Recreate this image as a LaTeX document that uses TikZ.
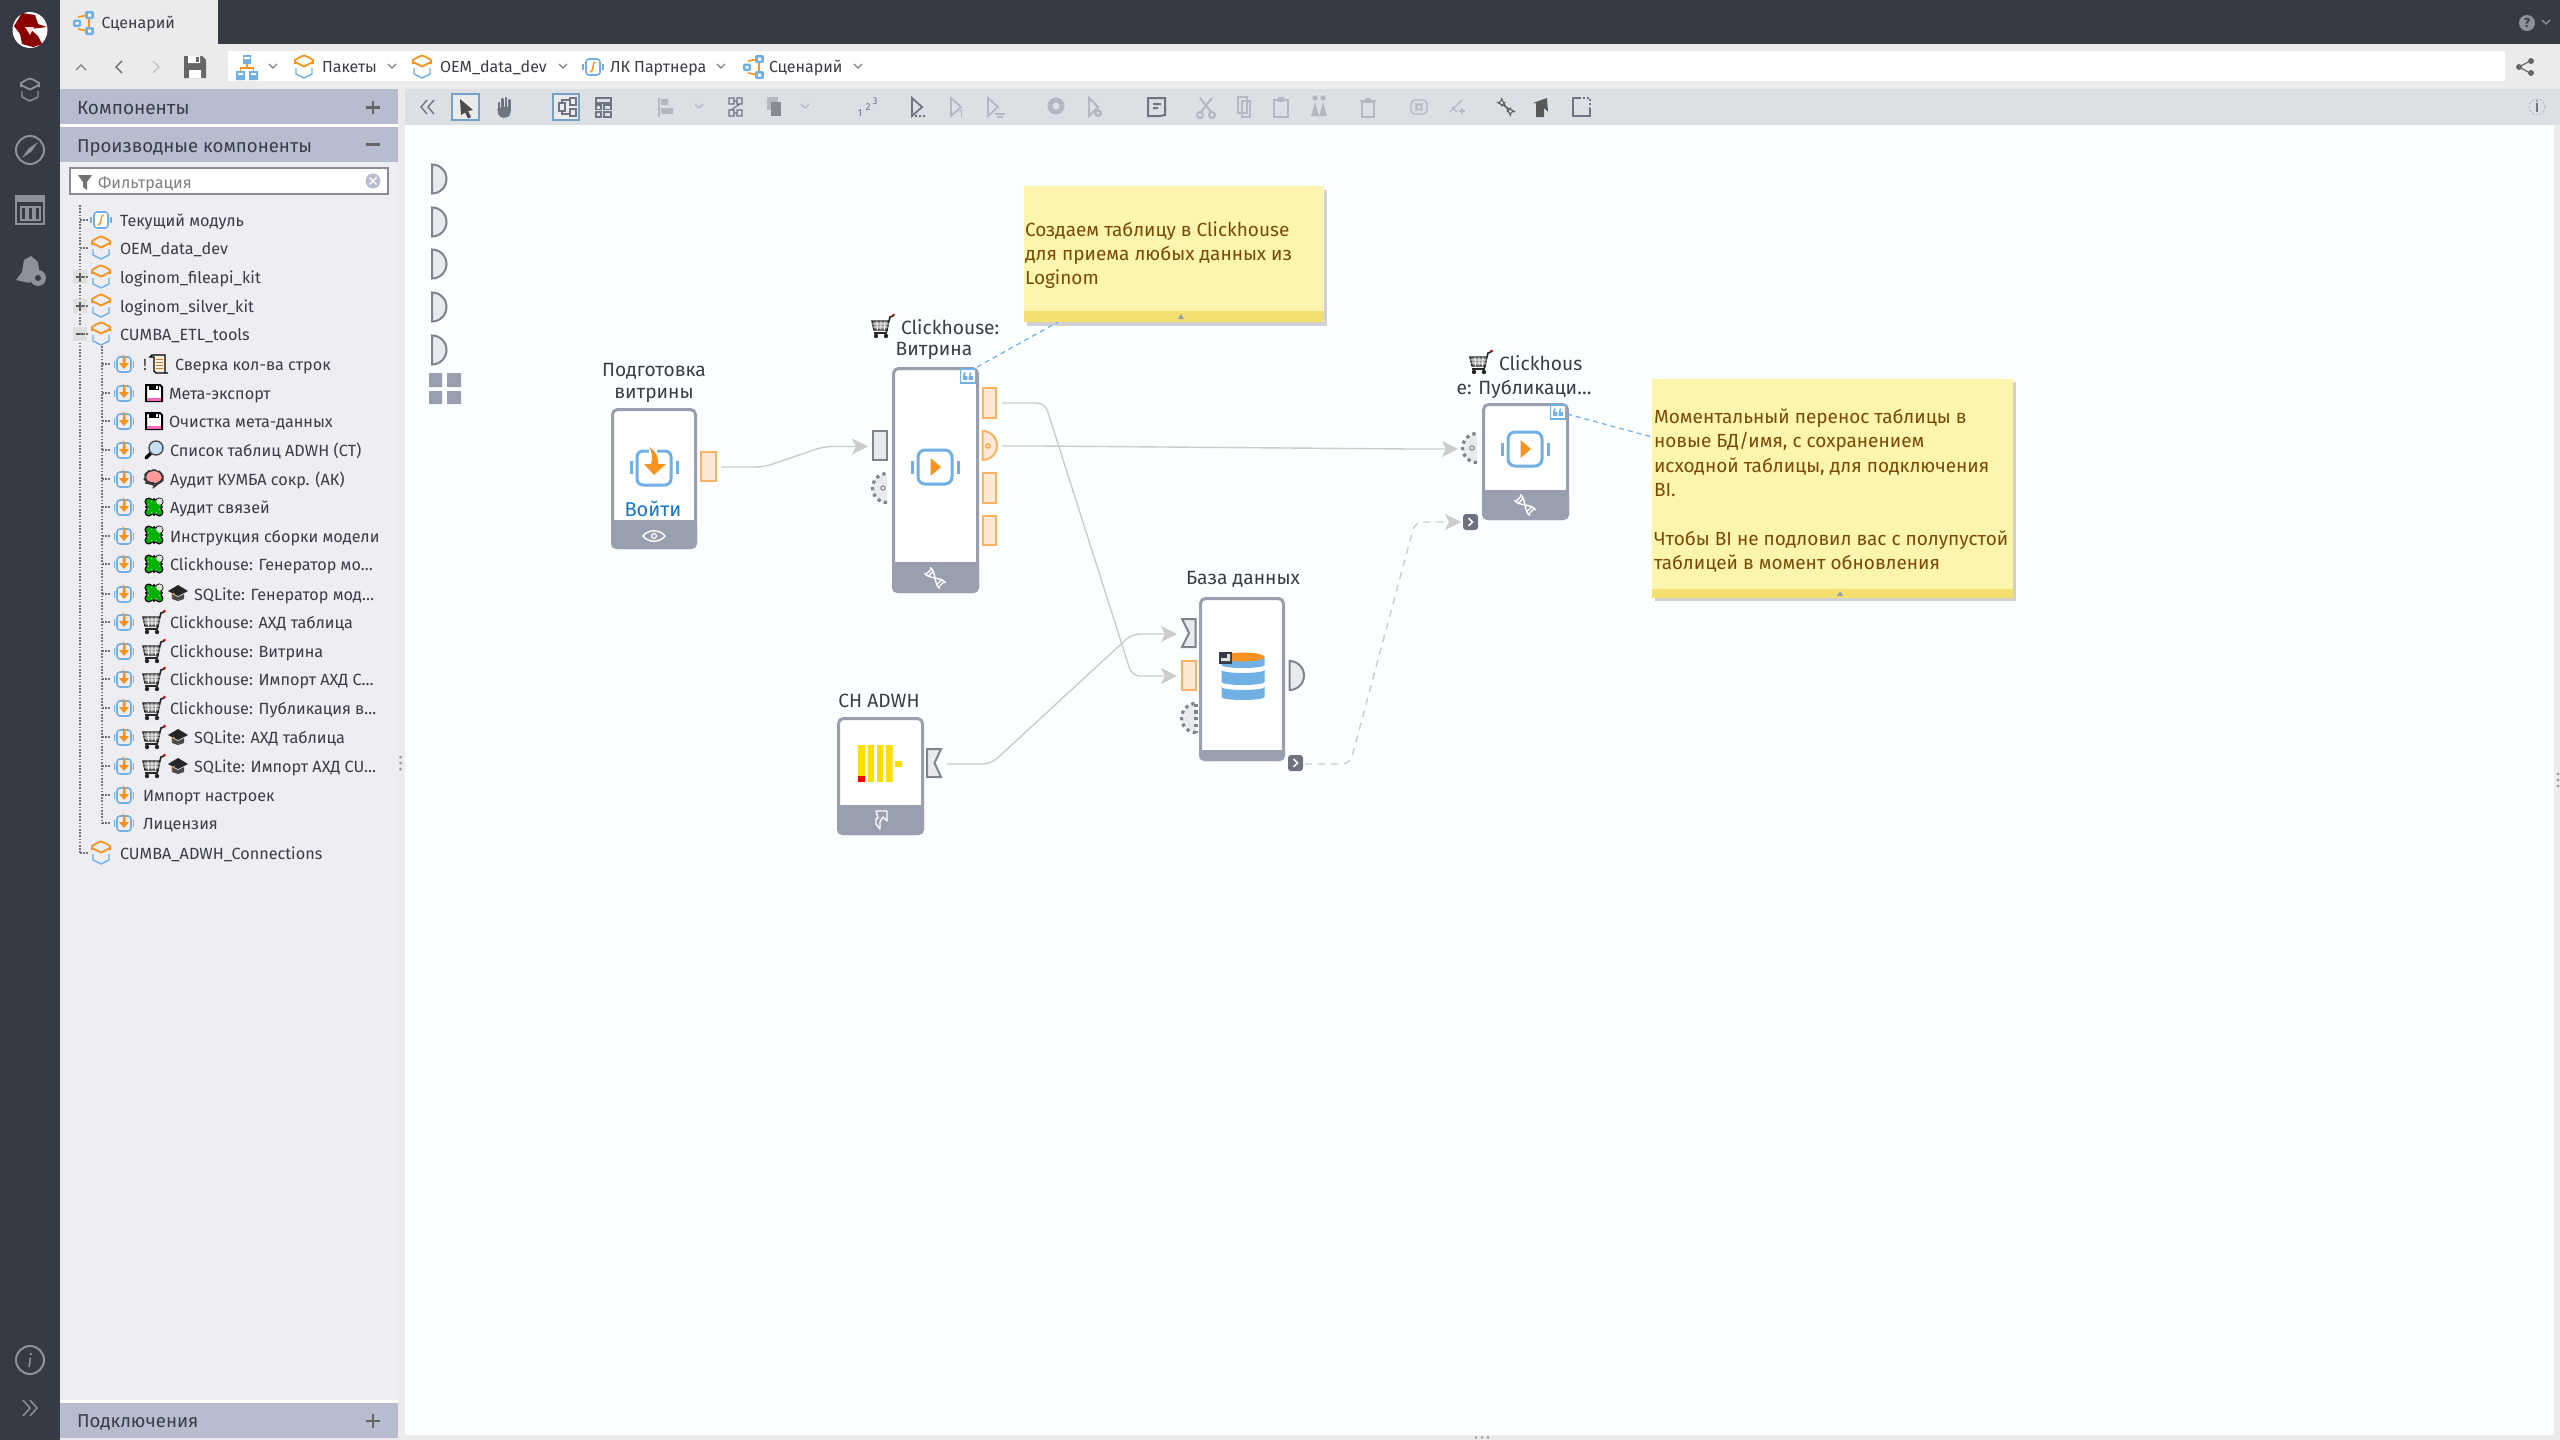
\documentclass[tikz,border=0pt]{standalone}
\usepackage{fontspec}
\setmainfont{Fira Sans}
\usetikzlibrary{arrows.meta}
\definecolor{dark}{HTML}{363A45}
\definecolor{chrome}{HTML}{EBEBEC}
\definecolor{hdr}{HTML}{B7BDCE}
\definecolor{panel}{HTML}{EDEDF2}
\definecolor{tool}{HTML}{DCDFE4}
\definecolor{canvasc}{HTML}{FBFFFF}
\definecolor{bandc}{HTML}{9A9FB0}
\definecolor{sideic}{HTML}{8D919E}
\definecolor{txt}{HTML}{3A3C46}
\definecolor{blueic}{HTML}{70B0E4}
\definecolor{orangeic}{HTML}{F7931E}
\definecolor{portor}{HTML}{F9B262}
\definecolor{portorf}{HTML}{FDE9D6}
\definecolor{portgr}{HTML}{7F838E}
\definecolor{portgf}{HTML}{E9EAEE}
\definecolor{conn}{HTML}{CCCCCC}
\definecolor{notef}{HTML}{FCF5AE}
\definecolor{noteb}{HTML}{F4E070}
\definecolor{notet}{HTML}{7B4A05}
\definecolor{ticA}{HTML}{6E7482}
\definecolor{ticB}{HTML}{B4B8C0}
\definecolor{cdark}{HTML}{6E7280}
\definecolor{loginblue}{HTML}{1277C9}
\tikzset{
  lbl/.style={font=\fontsize{9.6pt}{12pt}\selectfont,text=txt,inner sep=0pt,outer sep=0pt,yshift=-0.7pt},
  rowt/.style={font=\fontsize{8.1pt}{10pt}\selectfont,text=txt,inner sep=0pt,outer sep=0pt,anchor=mid west,yshift=-0.4pt},
  hdrt/.style={font=\fontsize{9.3pt}{12pt}\selectfont,text=txt,inner sep=0pt,outer sep=0pt,anchor=mid west,yshift=-0.8pt},
  crumb/.style={font=\fontsize{8pt}{10pt}\selectfont,text=txt,inner sep=0pt,outer sep=0pt,anchor=mid west},
  notet/.style={font=\fontsize{9.5pt}{12.15pt}\selectfont,text=notet,inner sep=0pt,outer sep=0pt,align=left},
  fbox/.style={draw=bandc,fill=white,line width=1.5pt,rounded corners=2.5pt,inner sep=0pt,outer sep=0pt},
  rport/.style={draw=portor,fill=portorf,line width=1pt},
  gport/.style={draw=portgr,fill=portgf,line width=1pt},
  cedge/.style={draw=conn,line width=0.7pt,rounded corners=4pt,-{Stealth[length=8pt,width=8pt,inset=2pt,fill=conn]}},
  dedge/.style={cedge,dash pattern=on 3.5pt off 3pt},
  ndash/.style={draw=blueic,line width=0.6pt,dash pattern=on 2.5pt off 2pt},
  ticon/.style={draw=ticA,line width=0.9pt},
  ticoff/.style={draw=ticB,line width=0.9pt},
  tree/.style={draw=black!55,line width=0.6pt,dash pattern=on 0.8pt off 0.8pt},
}
% ---- icons -------------------------------------------------------------
\newcommand\pkgic[4]{\begin{scope}[shift={(#1,#2)},line join=round]
 \draw[#3,line width=0.9pt] (-9,-3)--(-9,-7)--(-4,-10);
 \draw[#3,line width=0.9pt] (9,-3)--(9,-7)--(4,-10);
 \draw[#3,line width=0.9pt] (-4,-10)--(0,-11.5)--(4,-10);
 \draw[#3,line width=0.9pt] (-9,-5)--(0,-0.5)--(9,-5);
 \draw[#4,line width=0.7pt] (-8,1)--(-8,7)--(0,11)--(8,7)--(8,1);
\end{scope}}
\newcommand\scenic[2]{\begin{scope}[shift={(#1,#2)}]
 \draw[orangeic,line width=0.8pt] (-6,-6)--(4,-8) (-6,6)--(4,8) (5,-4)--(5,4);
 \fill[blueic,rounded corners=1pt] (-11,-3.5) rectangle (-3,4);
 \fill[blueic,rounded corners=1pt] (1,-12) rectangle (10,-4);
 \fill[blueic,rounded corners=1pt] (1,4) rectangle (10,12);
 \fill[white] (-8.5,-1) rectangle (-5.5,1.5) (4,-9.5) rectangle (7,-6.5) (4,6.5) rectangle (7,9.5);
\end{scope}}
\newcommand\fxic[2]{\begin{scope}[shift={(#1,#2)}]
 \draw[blueic,line width=0.8pt,fill=white,rounded corners=1.5pt] (-7,-8) rectangle (7,8);
 \draw[blueic,line width=0.7pt] (-10,-3)--(-10,3) (10,-3)--(10,3);
 \draw[orangeic,line width=0.7pt] (2.5,-5) .. controls (0.5,-5) and (0.5,-3) .. (0,0) .. controls (-0.5,3) and (-1,5) .. (-3,5);
\end{scope}}
\newcommand\impic[2]{\begin{scope}[shift={(#1,#2)}]
 \draw[blueic,line width=0.8pt,rounded corners=1.5pt,fill=panel] (-7,-7) rectangle (7,8);
 \draw[blueic,line width=0.8pt] (-9.5,-3)--(-9.5,4) (9.5,-3)--(9.5,4);
 \fill[orangeic] (-1.5,-10) .. controls (2,-7) and (2,-4) .. (1.5,-1) -- (5,-1) -- (0,5) -- (-5,-1) -- (-1.5,-1) .. controls (-0.5,-4) and (-0.5,-7) .. cycle;
\end{scope}}
\newcommand\bigimp[2]{\begin{scope}[shift={(#1,#2)}]
 \draw[blueic,line width=1.5pt,rounded corners=3pt] (-17,-16) rectangle (17,18);
 \draw[blueic,line width=1.5pt] (-23,-6)--(-23,7) (23,-6)--(23,7);
 \fill[white] (-5,-20) rectangle (3,-14);
 \fill[orangeic] (-5,-20) .. controls (3,-15) and (5,-8) .. (4,-3) -- (12,-3) -- (0,8) -- (-10,-3) -- (-3,-3) .. controls (-1,-9) and (-2,-15) .. cycle;
\end{scope}}
\newcommand\playic[2]{\begin{scope}[shift={(#1,#2)}]
 \draw[blueic,line width=1.5pt,rounded corners=3.5pt] (-17,-17) rectangle (17,17);
 \draw[blueic,line width=1.5pt] (-23,-6)--(-23,7) (23,-6)--(23,7);
 \fill[orangeic] (-4.5,-9)--(6,0)--(-4.5,9)--cycle;
\end{scope}}
\newcommand\cartic[2]{\begin{scope}[shift={(#1,#2)}]
 \draw[black!85,line width=0.7pt,fill=black!40] (-10,-5)--(7,-5)--(5,4)--(-8,4)--cycle;
 \draw[white,line width=0.4pt] (-10,-2)--(7,-2) (-9,1)--(6,1) (-5,-5)--(-4.5,4) (-1,-5)--(-1,4) (3,-5)--(2.5,4);
 \draw[black!85,line width=0.8pt] (7,-5)--(8,-9)--(11,-10) (5,4)--(4,7)--(-8,7);
 \fill[black!85] (-6,10) circle (2.2) (4,10) circle (2.2);
 \fill[red!80!black] (11.5,-11) circle (1.5);
\end{scope}}
\newcommand\puzic[2]{\begin{scope}[shift={(#1,#2)},rotate=45]
 \fill[black] (-6.5,-6.5) rectangle (6.5,6.5) (-7.5,0) circle (4.2) (7.5,0) circle (4.2) (0,-7.5) circle (4.2) (0,7.5) circle (4.2);
 \fill[green!70!black] (-5,-5) rectangle (5,5) (-7.5,0) circle (2.8) (7.5,0) circle (2.8) (0,-7.5) circle (2.8) (0,7.5) circle (2.8);
\end{scope}
 \fill[white!75!gray] (#1+5.5,#2-5.5) circle (3.2);}
\newcommand\hatic[2]{\begin{scope}[shift={(#1,#2)}]
 \fill[black!85] (-10,-2)--(0,-8)--(10,-2)--(0,3)--cycle;
 \fill[black!70] (-6,1)--(0,4)--(6,1)--(6,6)--(0,8)--(-6,6)--cycle;
 \draw[orangeic!80!black,line width=0.4pt] (-3,0)--(-6,1)--(-6,5);
\end{scope}}
\newcommand\floppyic[2]{\begin{scope}[shift={(#1,#2)}]
 \draw[black,line width=1pt,fill=white] (-8,-8)--(6,-8)--(8,-6)--(8,8)--(-8,8)--cycle;
 \fill[black] (-5,-8) rectangle (5,-3);
 \fill[white] (1.5,-7) rectangle (4,-4);
 \fill[magenta!60] (-7,5) rectangle (7,7.5);
\end{scope}}
\newcommand\magic[2]{\begin{scope}[shift={(#1,#2)}]
 \draw[black,line width=1.6pt,line cap=round] (-3,3)--(-8,8);
 \draw[black!70,line width=0.7pt,fill=blueic!40] (2,-2) circle (7);
\end{scope}}
\newcommand\brainic[2]{\begin{scope}[shift={(#1,#2)}]
 \draw[black!80,line width=0.6pt,fill=red!40!white,rounded corners=3pt] (-9,2)--(-9,-4)--(-4,-8)--(4,-8)--(9,-3)--(9,3)--(3,6)--(1,8)--(-3,5)--(-6,5)--cycle;
\end{scope}}
\newcommand\scrollic[2]{\begin{scope}[shift={(#1,#2)}]
 \draw[black,line width=0.7pt,fill=orange!15!white] (-7,-9)--(6,-9)--(6,9)--(9,9)--(-3,9)--(-5,7)--(-5,-7)--(-9,-7)--cycle;
 \draw[orange!50!gray,line width=0.3pt] (-3,-5)--(4,-5) (-3,-2)--(4,-2) (-3,1)--(4,1) (-3,4)--(4,4);
\end{scope}}
\newcommand\dnaic[2]{\begin{scope}[shift={(#1,#2)},rotate=-45]
 \draw[white,line width=0.7pt] (-11,-4) .. controls (-4,-6) and (4,6) .. (11,4) (-11,4) .. controls (-4,6) and (4,-6) .. (11,-4) (-6,-3)--(-6,3) (6,-3)--(6,3) (-9,-3)--(-9,3) (9,-3)--(9,3);
\end{scope}}
\newcommand\quoteic[2]{\begin{scope}[shift={(#1,#2)}]
 \draw[blueic,line width=0.8pt,fill=white] (-7.5,-7)rectangle(7.5,7);
 \fill[blueic] (-5,0) rectangle (-0.7,4) (0.7,0) rectangle (5,4);
 \draw[blueic,line width=0.8pt] (-4.2,0) -- (-3,-3.5) (1.5,0)--(2.7,-3.5);
\end{scope}}
\newcommand\arrport[2]{\begin{scope}[shift={(#1,#2)}]
 \fill[cdark,rounded corners=1.5pt] (-7.5,-8) rectangle (7.5,8);
 \draw[white,line width=0.8pt] (-2,-4)--(2,0)--(-2,4);
\end{scope}}
\newcommand\dotport[2]{%
 \fill[portgf] (#1,#2+14.5) arc (90:270:14.5) -- cycle;
 \draw[portgr,line width=1.6pt,dash pattern=on 1.6pt off 1.8pt] (#1,#2+14.5) arc (90:270:14.5);
}
\newcommand\halfport[3]{%
 \draw[gport,#3] (#1,#2-14.5) arc (-90:90:14.5) -- cycle;
}
\newcommand\chev[3]{\draw[#3,line width=0.6pt] (#1-4,#2-2)--(#1,#2+2)--(#1+4,#2-2);}
% flowchart box: name x1 y1 x2 y2 bandY
\newcommand\flow[6]{%
 \pgfmathsetmacro\bw{(#4-#2-3)*0.5}\pgfmathsetmacro\bh{(#5-#3-3)*0.5}%
 \node[fbox,minimum width=\bw pt,minimum height=\bh pt] (#1) at ({(#2+#4)/2},{(#3+#5)/2}) {};
 \fill[bandc,rounded corners=2.5pt] (#2,#6) rectangle (#4,#5);
 \fill[bandc] (#2,#6) rectangle (#4,#6+6);
}
% database segment: top edge y, bottom edge y
\newcommand\dbseg[2]{\fill[blueic] (-21.5,#1) -- (-21.5,#2) arc (180:0:21.5 and 3) -- (21.5,#1) arc (0:180:21.5 and 3) -- cycle;}
% tree rows
\newcommand\rowb[4]{\draw[tree] (102,#1)--(110,#1); \impic{124}{#1} \node[rowt] (#2) at (#3,#1) {#4};}
\newcommand\rowa[3]{\draw[tree] (80,#1)--(88,#1); \pkgic{101}{#1}{orangeic}{blueic} \node[rowt] (#2) at (120,#1) {#3};}
\newcommand\plusb[2]{\fill[black!12] (73,#1-7) rectangle (87,#1+7); \draw[black!65,line width=0.7pt] (75.5,#1)--(84.5,#1); \ifnum#2=1 \draw[black!65,line width=0.7pt] (80,#1-4.5)--(80,#1+4.5);\fi}
\begin{document}
\begin{tikzpicture}[x=0.5pt,y=-0.5pt,line cap=butt]
\useasboundingbox (0,0) rectangle (2560,1440);
\clip (0,0) rectangle (2560,1440);
% ---- chrome
\fill[chrome] (0,0) rectangle (2560,1440);
\fill[dark] (0,0) rectangle (2560,44);
\fill[dark] (0,0) rectangle (60,1440);
\fill[chrome] (60,0) rectangle (218,44);
\fill[white] (228,51) rectangle (2505,81);
\fill[tool] (405,89) rectangle (2560,125);
\fill[canvasc] (405,125) rectangle (2554,1435);
\fill[white] (60,124) rectangle (398,127);
\fill[panel] (60,162) rectangle (398,1400);
\fill[white] (60,1400) rectangle (398,1403);
\fill[hdr] (60,89) rectangle (398,124);
\fill[hdr] (60,127) rectangle (398,162);
\fill[hdr] (60,1403) rectangle (398,1438);
% ---- left rail icons
\fill[white] (30,30) ellipse (17.5 and 18);
\fill[red!55!black] (14,26)--(22,13)--(35,15)--(38,24)--(47,27)--(30,29)--(38,36)--(42,44)--(33,47)--(22,44)--(20,34)--cycle;
\fill[white!85!red] (25,27)--(34,27)--(30,35)--cycle;
\pkgic{30}{90}{sideic}{sideic}
\draw[sideic,line width=1pt] (30,150) circle (14);
\fill[sideic] (38,142)--(31.5,151.5)--(22,158)--(28.5,148.5)--cycle;
\draw[sideic,line width=1pt,fill=dark] (16,196) rectangle (44,224);
\fill[sideic] (16,196) rectangle (44,202);
\draw[sideic,line width=1pt] (21,207)rectangle(26,220) (28,207)rectangle(33,220) (35,207)rectangle(40,220);
\fill[sideic] (16,280)--(22,272)--(24,260)--(31,256)--(38,262)--(39,270)--(33,272)--(30,283)--cycle;
\fill[sideic] (38,278) circle (8); \fill[dark] (38,278) circle (3);
\draw[sideic,line width=1pt] (30,1360) circle (14);
\node[font=\itshape\fontsize{9pt}{10pt}\selectfont,text=sideic,inner sep=0pt] (railinfo) at (30,1360) {i};
\draw[sideic,line width=0.7pt] (23,1400)--(30,1408)--(23,1416) (30,1400)--(37,1408)--(30,1416);
% ---- top bar right
\draw[sideic,line width=1pt,fill=sideic] (2527,23) circle (7);
\node[font=\fontsize{6.5pt}{7pt}\selectfont\bfseries,text=dark,inner sep=0pt] (helpq) at (2527,23) {?};
\chev{2546}{22}{sideic}
% ---- tab + breadcrumb
\scenic{84}{23}
\node[crumb] (tab) at (101.5,23) {Сценарий};
\draw[black!50,line width=0.7pt] (76,70)--(81,65)--(86,70);
\draw[black!60,line width=0.7pt] (122,61)--(116,67)--(122,73);
\draw[black!25,line width=0.7pt] (153,61)--(159,67)--(153,73);
\fill[black!60] (184,56)--(202,56)--(206,60)--(206,78)--(184,78)--cycle;
\fill[white] (188,56) rectangle (200,63) (189,70) rectangle (201,78);
\fill[black!60] (196,57) rectangle (199,62);
\begin{scope}[shift={(247,67)}]
 \fill[blueic] (-4,-12) rectangle (4,-3) (-11,4) rectangle (-2,13) (2,4) rectangle (11,13);
 \draw[orangeic,line width=0.7pt] (0,-3)--(0,1) (-6.5,4)--(-6.5,1)--(6.5,1)--(6.5,4);
 \fill[white] (-3,-10) rectangle (3,-8) (-9,6) rectangle (-4,8) (4,6) rectangle (9,8);
\end{scope}
\chev{273}{66}{black!50}
\pkgic{304}{67}{orangeic}{blueic}
\node[crumb] (cr1) at (322,67) {Пакеты};
\chev{392}{66}{black!50}
\pkgic{422}{67}{orangeic}{blueic}
\node[crumb] (cr2) at (440,67) {OEM\_data\_dev};
\chev{563}{66}{black!50}
\fxic{593}{67}
\node[crumb] (cr3) at (610,67) {ЛК Партнера};
\chev{721}{66}{black!50}
\scenic{754}{67}
\node[crumb] (cr4) at (769,67) {Сценарий};
\chev{858}{66}{black!50}
\begin{scope}[shift={(2525,67)}]
 \draw[black!60,line width=0.6pt] (-6,0)--(5,-6) (-6,0)--(5,6);
 \fill[black!60] (-6,0) circle (3) (6,-6) circle (3) (6,6) circle (3);
\end{scope}
% ---- panel headers
\node[hdrt,font=\fontsize{9.5pt}{12pt}\selectfont] (h1) at (77,108) {Компоненты};
\draw[black!60,line width=1.2pt] (366,107.5)--(380,107.5) (373,101)--(373,114);
\node[hdrt] (h2) at (77,145.5) {Производные компоненты};
\draw[black!60,line width=1.2pt] (366,144.5)--(380,144.5);
\node[hdrt] (h3) at (77,1421) {Подключения};
\draw[black!60,line width=1.2pt] (366,1421)--(380,1421) (373,1414)--(373,1428);
% ---- filter
\draw[black!45,line width=0.6pt,fill=white] (70,168) rectangle (388,194);
\fill[black!55] (78,175)--(92,175)--(87,182)--(87,190)--(83,187)--(83,182)--cycle;
\node[rowt,text=black!50] (filt) at (98,182) {Фильтрация};
\fill[hdr] (373,181) circle (7.5);
\draw[white,line width=0.7pt] (369.5,177.5)--(376.5,184.5) (369.5,184.5)--(376.5,177.5);
% ---- tree
\draw[tree] (80,205)--(80,853);
\draw[tree] (102,346)--(102,823);
\draw[tree] (80,220)--(88,220);
\fxic{101}{220}
\node[rowt] (t1) at (120,220) {Текущий модуль};
\rowa{248}{t2}{OEM\_data\_dev}
\plusb{277}{1}\rowa{277}{t3}{loginom\_fileapi\_kit}
\plusb{306}{1}\rowa{306}{t4}{loginom\_silver\_kit}
\plusb{334}{0}\rowa{334}{t5}{CUMBA\_ETL\_tools}
\rowb{364}{r1}{175}{Сверка кол-ва строк}
\node[rowt] (r1b) at (143,364) {!}; \scrollic{159}{364}
\rowb{393}{r2}{169}{Мета-экспорт} \floppyic{154}{393}
\rowb{421}{r3}{169}{Очистка мета-данных} \floppyic{154}{421}
\rowb{450}{r4}{170}{Список таблиц ADWH (CT)} \magic{154}{450}
\rowb{479}{r5}{170}{Аудит КУМБА сокр. (АК)} \brainic{154}{478}
\rowb{507}{r6}{170}{Аудит связей} \puzic{154}{507}
\rowb{536}{r7}{170}{Инструкция сборки модели} \puzic{154}{535}
\rowb{564}{r8}{170}{Clickhouse: Генератор мо…} \puzic{154}{564}
\rowb{594}{r9}{194}{SQLite: Генератор мод…} \puzic{154}{593} \hatic{178}{593}
\rowb{622}{r10}{170}{Clickhouse: АХД таблица} \cartic{153}{622}
\rowb{651}{r11}{170}{Clickhouse: Витрина} \cartic{153}{651}
\rowb{679}{r12}{170}{Clickhouse: Импорт АХД С…} \cartic{153}{679}
\rowb{708}{r13}{170}{Clickhouse: Публикация в…} \cartic{153}{708}
\rowb{737}{r14}{194}{SQLite: АХД таблица} \cartic{153}{737} \hatic{178}{737}
\rowb{766}{r15}{194}{SQLite: Импорт АХД CU…} \cartic{153}{766} \hatic{178}{766}
\rowb{795}{r16}{143}{Импорт настроек}
\rowb{823}{r17}{143}{Лицензия}
\draw[tree] (80,853)--(88,853);
\pkgic{101}{853}{orangeic}{blueic}
\node[rowt] (t6) at (120,853) {CUMBA\_ADWH\_Connections};
\fill[black!40] (400.5,757) circle (1.5) (400.5,763) circle (1.5) (400.5,769) circle (1.5);
\fill[black!40] (2558,774) circle (1.5) (2558,780) circle (1.5) (2558,786) circle (1.5);
\fill[black!40] (1476,1437.5) circle (1.3) (1482,1437.5) circle (1.3) (1488,1437.5) circle (1.3);
% ---- toolbar
\draw[ticA,line width=0.7pt] (427,100)--(421,107)--(427,114) (434,100)--(428,107)--(434,114);
\draw[blueic!70!gray,line width=0.6pt,fill=chrome] (452,94) rectangle (479,120);
\fill[black!70] (460,99)--(473,110)--(468,111)--(471,117)--(468,118.5)--(465,112.5)--(461,115)--cycle;
\draw[ticA,line width=1.1pt,line cap=round] (499,103)--(499,110) (502.5,99)--(502.5,110) (506,98)--(506,110) (509.5,100)--(509.5,110);
\fill[ticA,rounded corners=2pt] (498,107)--(511,107)--(511,114)--(507,118)--(500,118)--(497,112)--cycle;
\draw[blueic!70!gray,line width=0.6pt,fill=chrome] (553,94) rectangle (579,120);
\draw[ticA,line width=0.6pt] (559,103)rectangle(565,111) (570,98)rectangle(576,105) (570,109)rectangle(576,116) (562,103)--(562,100)--(570,100) (562,111)--(562,114)--(570,114);
\draw[ticon] (596,98)rectangle(611,103) (596,105)rectangle(601,109.5) (604,105)rectangle(611,109.5) (596,112)rectangle(601,117) (604,112)rectangle(611,117);
\draw[ticoff] (659,98)--(659,117); \fill[ticB] (661,99) rectangle (668,105) (661,108) rectangle (673,114);
\chev{699}{106}{ticB}
\draw[ticon,line width=0.6pt] (729,98)rectangle(734,104) (737,98)rectangle(742,104) (729,110)rectangle(734,116) (737,110)rectangle(742,116) (734,101)--(737,101) (734,113)--(737,113) (740,104)--(731,110);
\fill[ticB] (767,97) rectangle (778,110); \fill[ticB!75!black] (771,102) rectangle (781,116);
\chev{805}{106}{ticB}
\node[font=\fontsize{5pt}{5pt}\selectfont,text=ticA,inner sep=0pt] (tn1) at (860,113) {1};
\node[font=\fontsize{5pt}{5pt}\selectfont,text=ticA,inner sep=0pt] (tn2) at (868,107) {2};
\node[font=\fontsize{5pt}{5pt}\selectfont,text=ticA,inner sep=0pt] (tn3) at (875,101) {3};
\draw[ticon] (912,98)--(922,107)--(912,116)--cycle;
\fill[ticA] (915,115) rectangle (917,117) (919,115) rectangle (921,117) (923,115) rectangle (925,117);
\draw[ticoff] (951,98)--(961,107)--(951,116)--cycle;
\node[font=\fontsize{5.5pt}{6pt}\selectfont,text=ticB,inner sep=0pt] (tn4) at (961,114) {1};
\draw[ticoff] (988,98)--(998,107)--(988,116)--cycle;
\draw[ticoff] (995,114)--(1005,114) (997,117)--(1003,117);
\fill[ticB] (1056,106) circle (8.5); \fill[tool] (1056,106) circle (3.5);
\draw[ticoff] (1089,98)--(1098,107)--(1089,116)--cycle;
\fill[ticB] (1098,113) circle (4); \fill[tool] (1098,113) circle (1.5);
\draw[ticA,line width=1pt] (1165,115)--(1165,98)--(1148,98)--(1148,116)--(1160,116)--cycle (1153,104)--(1161,104) (1153,108)--(1158,108);
\draw[ticB,line width=1pt] (1200,98)--(1212,113) (1212,98)--(1200,113);
\draw[ticB,line width=1pt] (1200,115) circle (3) (1212,115) circle (3);
\draw[ticoff,line width=0.7pt] (1238,97)rectangle(1247,113) (1242,101)rectangle(1250,117);
\draw[ticoff,line width=0.7pt] (1274,100)rectangle(1288,117); \fill[ticB] (1278,97) rectangle (1284,102);
\fill[ticB] (1315,98) circle (2.7) (1323,98) circle (2.7) (1311,116)--(1315,102)--(1319,116)--cycle (1319,116)--(1323,102)--(1327,116)--cycle;
\draw[ticoff,line width=0.7pt] (1362,102)rectangle(1374,117) (1360,101)--(1376,101) (1365,99)--(1371,99);
\draw[ticoff,line width=0.7pt,rounded corners=2pt] (1411,100)rectangle(1427,114) (1416,104)rectangle(1422,110);
\draw[ticoff,line width=0.6pt] (1450,112)--(1462,100) (1452,107)--(1457,112);
\draw[ticoff,line width=0.6pt] (1459,111)--(1465,111) (1462,108)--(1462,114);
\begin{scope}[shift={(1506,107)},rotate=-45]
 \draw[black!60,line width=0.6pt] (-10,-3)--(10,3) (-10,3)--(10,-3) (-8,-3)--(-8,3) (-4,-3)--(-4,3) (4,-3)--(4,3) (8,-3)--(8,3);
\end{scope}
\fill[black!65] (1536,117)--(1536,103)--(1533,103)--(1547,98)--(1548,112)--(1544,108)--(1544,117)--cycle;
\draw[ticA,line width=0.8pt] (1573,98)rectangle(1590,116);
\draw[tool,line width=0.8pt,dash pattern=on 1pt off 1pt] (1581,98)--(1590,98)--(1590,107)--(1581,107)--cycle;
\draw[ticB,line width=0.5pt,dash pattern=on 1pt off 1pt] (2537,107) circle (8);
\draw[ticA,line width=1pt] (2537,103)--(2537,112);
\fill[ticA] (2537,101) circle (0.8);
% ---- canvas left halves + grid
\foreach \yy in {179,222,264,307,350}{\halfport{432}{\yy}{}}
\fill[bandc] (429,373) rectangle (442,387) (447,373) rectangle (461,387) (429,391) rectangle (442,404) (447,391) rectangle (461,404);
% ---- notes
\fill[black!18] (1027,190) rectangle (1327,326);
\node[fill=notef,minimum width=150pt,minimum height=68pt,inner sep=0pt,outer sep=0pt] (note1) at (1174,254) {};
\fill[noteb] (1024,311) rectangle (1324,322);
\fill[bandc] (1178,319)--(1181,314)--(1184,319)--cycle;
\node[notet,anchor=west] (note1t) at (1025,255) {Создаем таблицу в Clickhouse\\для приема любых данных из\\Loginom};
\fill[black!18] (1655,382) rectangle (2016,601);
\node[fill=notef,minimum width=180.5pt,minimum height=109.5pt,inner sep=0pt,outer sep=0pt] (note2) at (1832.5,488.5) {};
\fill[noteb] (1652,589) rectangle (2013,598);
\fill[bandc] (1837,596)--(1840,591)--(1843,596)--cycle;
\node[notet,anchor=west] (note2t) at (1654,490.5) {Моментальный перенос таблицы в\\новые БД/имя, с сохранением\\исходной таблицы, для подключения\\BI.\\\\Чтобы BI не подловил вас с полупустой\\таблицей в момент обновления};
% ---- flow boxes
\flow{podg}{611}{408}{697}{549}{520}
\flow{vitr}{892}{367}{979}{593}{562}
\flow{publ}{1482}{403}{1569}{520}{490}
\flow{bd}{1199}{597}{1285}{761}{750}
\flow{adwh}{837}{717}{924}{835}{805}
% labels
\node[lbl] (lA1) at (654,370) {Подготовка};
\node[lbl] (lA2) at (654,394) {витрины};
\node[lbl,anchor=west] (lB1) at (901,326) {Clickhouse:};
\cartic{882}{326}
\node[lbl] (lB2) at (934,350) {Витрина};
\node[lbl,anchor=west] (lC1) at (1499,362) {Clickhous};
\cartic{1480}{362}
\node[lbl] (lC2) at (1524,388) {е: Публикаци…};
\node[lbl] (lD) at (1243,578) {База данных};
\node[lbl] (lE) at (879,699) {CH ADWH};
% box A contents
\bigimp{654}{467}
\node[lbl,text=loginblue,font=\fontsize{10pt}{12pt}\selectfont] (voiti) at (653,507) {Войти};
\draw[white,line width=0.7pt] (643,536) .. controls (648,529) and (660,529) .. (665,536) .. controls (660,543) and (648,543) .. (643,536) -- cycle;
\draw[white,line width=0.6pt] (654,536) circle (2.5);
\draw[rport] (701,452) rectangle (715.5,481);
% box B contents
\playic{935}{467}
\quoteic{968}{376}
\dnaic{935}{578}
\draw[gport] (872.5,431) rectangle (887,460);
\dotport{887}{488}
\draw[portgr,line width=0.5pt] (883,488) circle (2.2);
\draw[rport] (982.5,388) rectangle (996,418);
\draw[rport] (982.5,473) rectangle (996,503);
\draw[rport] (982.5,516) rectangle (996,545);
\draw[draw=portor,fill=portorf,line width=1pt] (982.5,431) arc (-90:90:14.5) -- cycle;
\draw[orangeic,line width=0.5pt] (988,446) circle (2.2);
% box C contents
\playic{1525}{449}
\quoteic{1558}{412}
\dnaic{1525}{505}
\dotport{1477}{448}
\draw[portgr,line width=0.5pt] (1472,448) circle (2.2);
\arrport{1470.5}{522}
% box D contents
\begin{scope}[shift={(1243,678)}]
 \dbseg{-21}{-13}
 \dbseg{-8}{4}
 \dbseg{9}{19}
 \fill[orangeic] (0,-21) ellipse (21.5 and 4.5);
\end{scope}
\fill[dark] (1219,652) rectangle (1232,664);
\fill[white!75!gray] (1221,661) -- (1230,661) -- (1230,654) -- (1227,654) -- (1227,658) -- (1221,658) -- cycle;
\draw[gport] (1182,619) -- (1195.5,619) -- (1195.5,647) -- (1182,647) -- (1189,633) -- cycle;
\draw[draw=portor,fill=portorf,line width=1pt] (1181.5,661) rectangle (1195.5,690);
\dotport{1196}{718}
\draw[portgr,line width=1.6pt,dash pattern=on 1.6pt off 1.8pt] (1196,703.5)--(1196,732.5);
\halfport{1289.5}{675.5}{}
\arrport{1295.5}{763}
% box E contents
\fill[yellow!80!orange] (858,745) rectangle (865,782) (867.5,745) rectangle (874,782) (877,745) rectangle (883,782) (886,745) rectangle (892.5,782) (895,761) rectangle (902,767);
\fill[red] (858,776) rectangle (865,782);
\begin{scope}[shift={(881,820)}]
 \draw[white,line width=0.7pt,line join=round] (-1,9)--(-5,4)--(-5,-1)--(-3,-2)--(-5,-9)--(6,-9)--(6,1)--(2,-3)--(-1,2)--cycle;
\end{scope}
\draw[gport] (927,749) -- (941,749) -- (934.5,763) -- (941,777) -- (927,777) -- cycle;
% ---- connectors
\coordinate (pAout) at (721,467);  \coordinate (pBin) at (868,446.5);
\coordinate (pB1) at (1002,403);   \coordinate (pDin2) at (1177,676);
\coordinate (pB2) at (1002,446);   \coordinate (pCin) at (1458,449);
\coordinate (pEout) at (947,764);  \coordinate (pDin1) at (1177,634);
\coordinate (pDout) at (1305,764); \coordinate (pCin2) at (1461,522);
\coordinate (qB) at (977,367); \coordinate (qC) at (1567,414);
\coordinate (nA) at (1058,322); \coordinate (nC) at (1652,437);
\draw[cedge] (pAout)--(764,467)--(824,446.5)--(pBin);
\draw[cedge] (pB1)--(1045,403)--(1132,676)--(pDin2);
\draw[cedge] (pB2)--(1040,446)--(1410,449)--(pCin);
\draw[cedge] (pEout)--(991,764)--(1132,634)--(pDin1);
\draw[dedge] (pDout)--(1350,764)--(1415,522)--(pCin2);
\draw[ndash] (qB)--(nA);
\draw[ndash] (qC)--(nC);
\end{tikzpicture}
\end{document}
